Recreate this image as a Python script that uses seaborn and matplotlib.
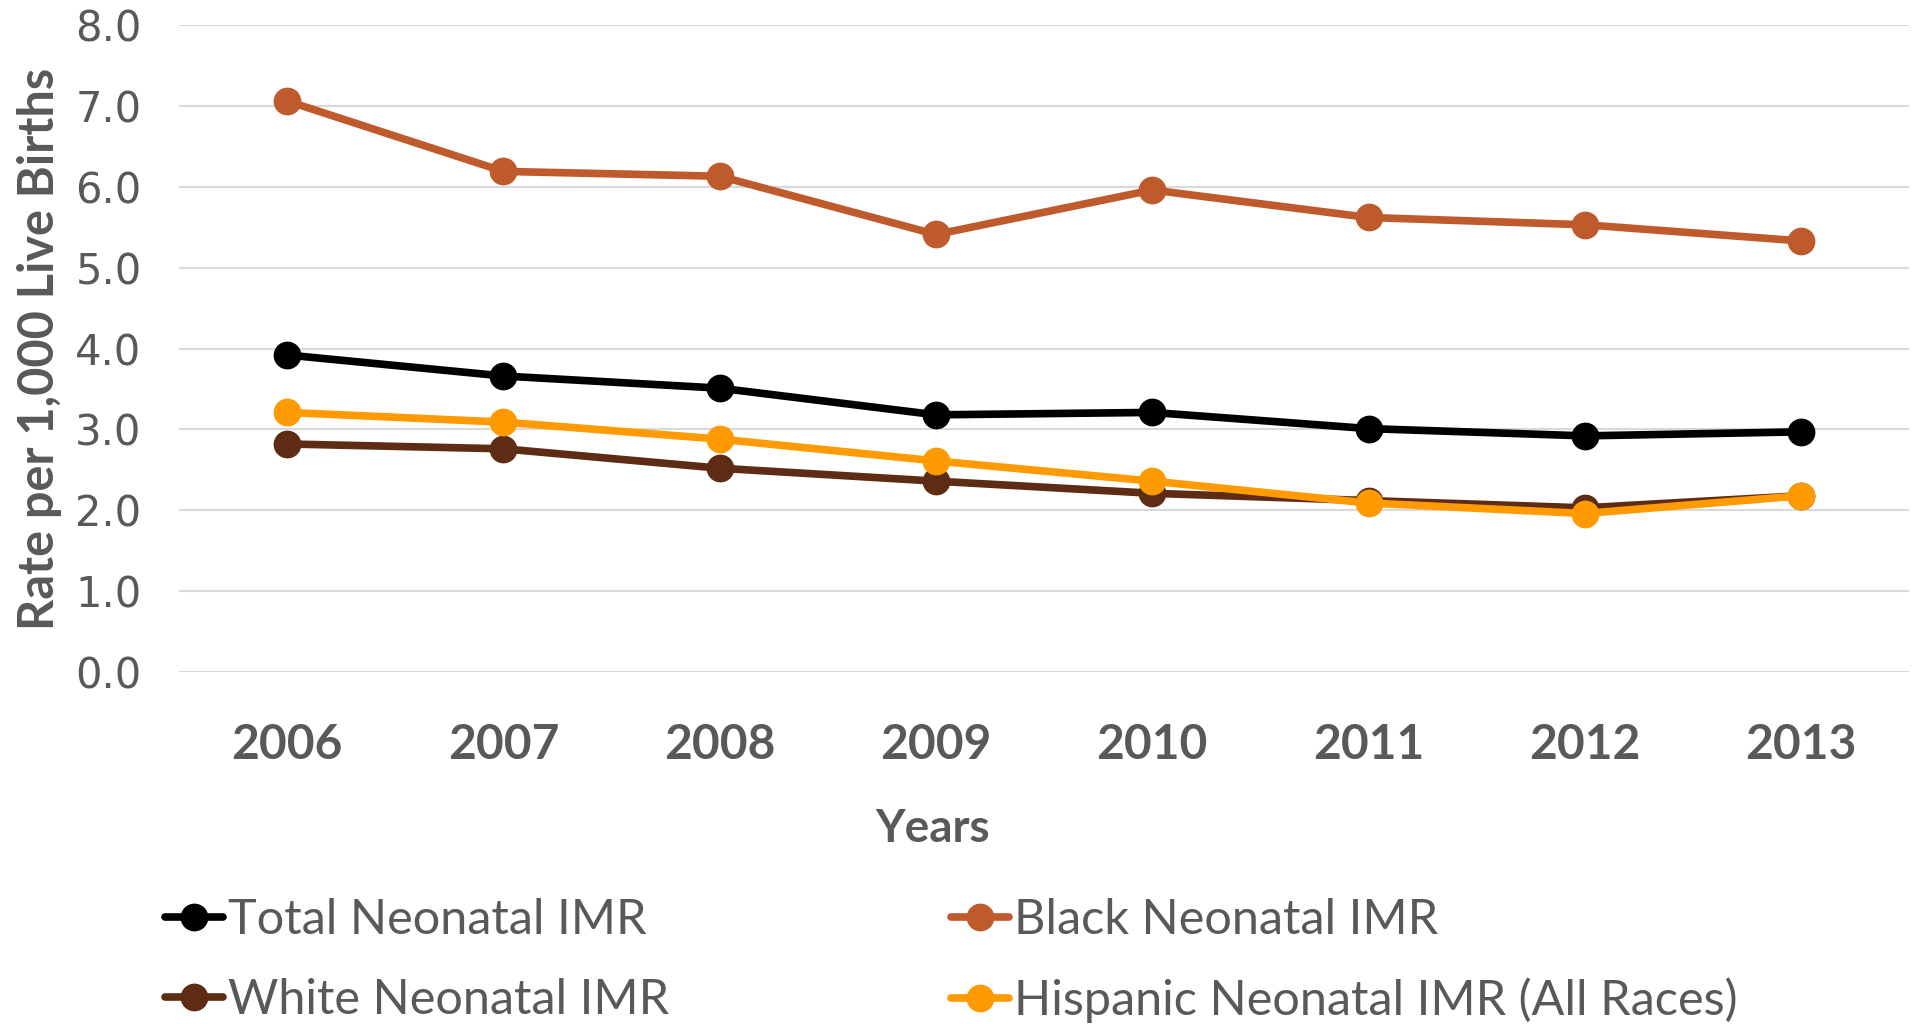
import matplotlib
matplotlib.use("Agg")
import matplotlib.pyplot as plt
import seaborn as sns
import pandas as pd

years = [2006, 2007, 2008, 2009, 2010, 2011, 2012, 2013]
total = [3.92, 3.66, 3.51, 3.18, 3.21, 3.01, 2.92, 2.97]
black = [7.06, 6.19, 6.13, 5.41, 5.96, 5.62, 5.53, 5.33]
white = [2.82, 2.76, 2.52, 2.36, 2.21, 2.12, 2.03, 2.18]
hispanic = [3.21, 3.09, 2.88, 2.61, 2.36, 2.09, 1.96, 2.18]

names = ["Total Neonatal IMR", "Black Neonatal IMR",
         "White Neonatal IMR", "Hispanic Neonatal IMR (All Races)"]
colors = ["#000000", "#BF5A2C", "#5E2B14", "#FF9A00"]

df = pd.concat([
    pd.DataFrame({"year": years, "rate": vals, "series": n})
    for n, vals in zip(names, [total, black, white, hispanic])
])

grey = "#595959"
sns.set_style("white")
plt.rcParams["font.family"] = ["Lato", "DejaVu Sans"]

fig = plt.figure(figsize=(19.13, 10.24), dpi=100)
ax = fig.add_axes([0.0936, 0.3437, 0.9044, 0.6319])

sns.lineplot(data=df, x="year", y="rate", hue="series", hue_order=names,
             palette=colors, marker="o", markersize=20, markeredgewidth=0,
             linewidth=5.5, ax=ax, legend=False)

ax.set_xlim(2005.5, 2013.5)
ax.set_ylim(0, 8)
ax.set_yticks(list(range(9)))
ax.set_yticklabels([f"{i:.1f}" for i in range(9)], fontsize=30, color=grey)
for t in ax.get_yticklabels():
    t.set_fontfamily("DejaVu Sans")
ax.set_xticks(years)
ax.set_xticklabels([str(y) for y in years], fontsize=34.5, fontweight="bold", color=grey)
ax.tick_params(axis="both", length=0)
ax.tick_params(axis="x", pad=37)
ax.tick_params(axis="y", pad=27)
ax.grid(axis="y", color="#D9D9D9", linewidth=1.5)
ax.set_axisbelow(True)
for s in ax.spines.values():
    s.set_visible(False)

ax.set_xlabel("Years", fontsize=33, fontweight="bold", color=grey)
ax.xaxis.set_label_coords(0.4356, -0.21)
ax.set_ylabel("Rate per 1,000 Live Births", fontsize=35, fontweight="bold", color=grey)
ax.yaxis.set_label_coords(-0.0676, 0.5)

handles = ax.get_lines()[:4]
order = [0, 2, 1, 3]
leg = fig.legend([handles[i] for i in order], [names[i] for i in order],
                 loc="upper left", bbox_to_anchor=(0.086, 0.123), ncol=2,
                 frameon=False, fontsize=35, handlelength=1.2,
                 handletextpad=0.1, columnspacing=5.8, labelspacing=0.73,
                 borderpad=0, borderaxespad=0)
for t in leg.get_texts():
    t.set_color(grey)

fig.savefig("out.png", dpi=100)
